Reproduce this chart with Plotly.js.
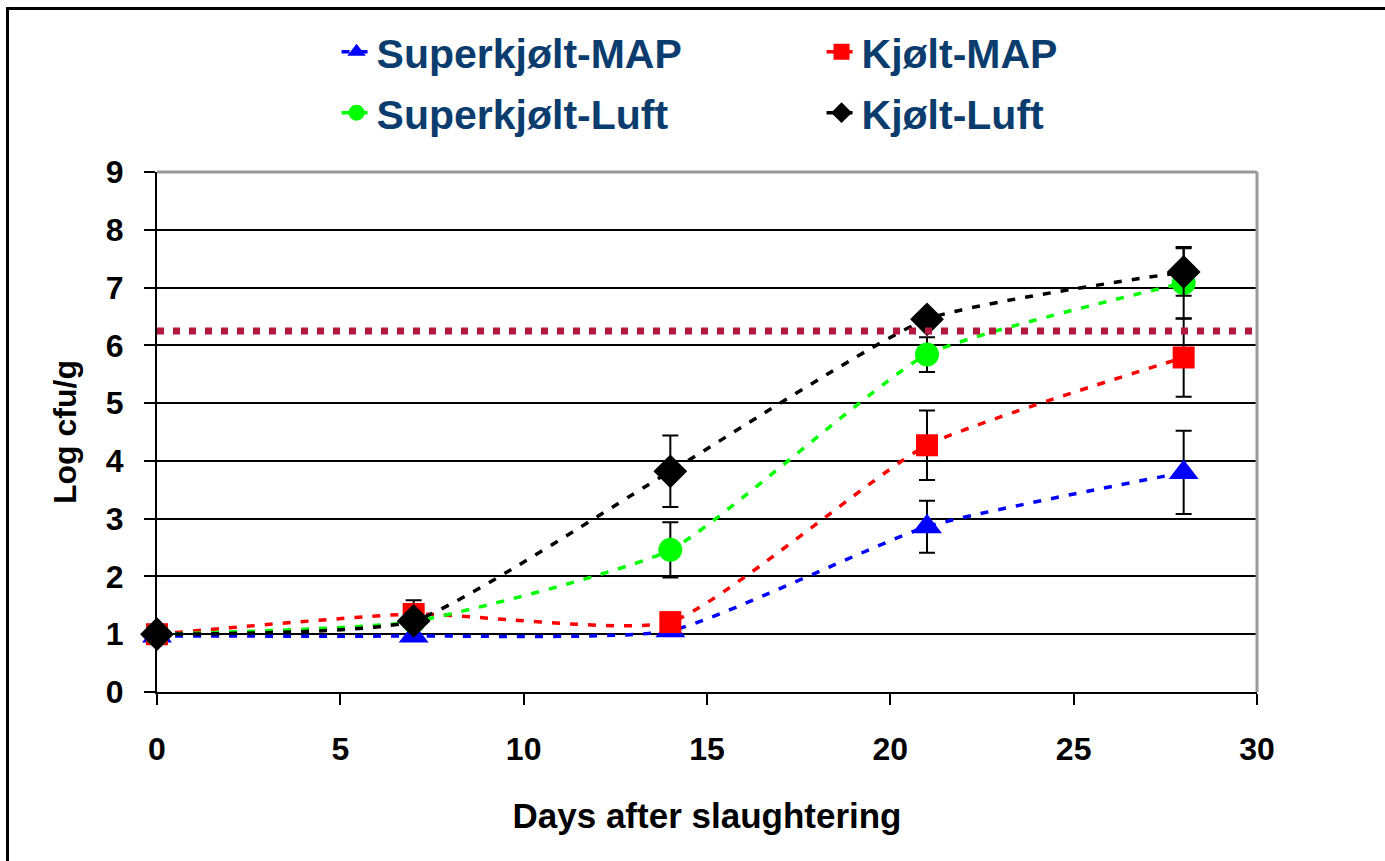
<!DOCTYPE html>
<html>
<head>
<meta charset="utf-8">
<script src="https://cdn.plot.ly/plotly-3.0.1.min.js"></script>
<style>
  html, body { margin: 0; padding: 0; background: #fff; }
  #wrap { position: relative; width: 1385px; height: 861px; overflow: hidden; }
  #chart { width: 1385px; height: 861px; }
  #frame { position: absolute; left: 6px; top: 7px; right: -10px; bottom: -10px;
           border-left: 3px solid #000; border-top: 3px solid #000; pointer-events: none; }
</style>
</head>
<body>
<div id="wrap"><div id="chart"></div><div id="frame"></div></div>
<script>
// ---- data ----
const days = [0, 7, 14, 21, 28];

const superMAP      = [0.97, 0.97, 1.06, 2.86, 3.80];
const superMAPErr   = [0.00, 0.00, 0.05, 0.45, 0.72];

const kjoltMAP      = [1.00, 1.35, 1.21, 4.27, 5.79];
const kjoltMAPErr   = [0.00, 0.24, 0.05, 0.60, 0.68];

const superLuft     = [1.00, 1.22, 2.46, 5.84, 7.08];
const superLuftErr  = [0.00, 0.05, 0.48, 0.30, 0.62];

const kjoltLuft     = [1.00, 1.23, 3.82, 6.45, 7.27];
const kjoltLuftErr  = [0.00, 0.05, 0.62, 0.10, 0.41];

const limitX = [0, 30];
const limitY = [6.25, 6.25];

const names = ['Superkjølt-MAP', 'Kjølt-MAP', 'Superkjølt-Luft', 'Kjølt-Luft'];
const xTicks = [0, 5, 10, 15, 20, 25, 30];
const yTicks = [0, 1, 2, 3, 4, 5, 6, 7, 8, 9];

function series(name, y, err, color, symbol, size, legend) {
  return {
    type: 'scatter', mode: 'lines+markers', name: name, x: days, y: y,
    legend: legend, cliponaxis: false,
    line: { color: color, width: 3.5, dash: '8px,10px', shape: 'spline', smoothing: 0.5 },
    marker: { color: color, symbol: symbol, size: size, line: { width: 0 } },
    error_y: { type: 'data', array: err, visible: true, color: '#000', thickness: 2, width: 8 }
  };
}

const traces = [
  series(names[0], superMAP,  superMAPErr,  '#0000ff', 'triangle-up', 26, 'legend'),
  series(names[1], kjoltMAP,  kjoltMAPErr,  '#ff0000', 'square',      22, 'legend'),
  series(names[2], superLuft, superLuftErr, '#00ff00', 'circle',      24, 'legend2'),
  series(names[3], kjoltLuft, kjoltLuftErr, '#000000', 'diamond',     26, 'legend2'),
  { type: 'scatter', mode: 'lines', x: limitX, y: limitY, showlegend: false, hoverinfo: 'skip',
    line: { color: '#b5173f', width: 7, dash: '7px,9px' } }
];

const fam = 'Liberation Sans, Arial, sans-serif';
const legFont = { family: fam, weight: 'bold', size: 41, color: '#0b3c6e' };

const layout = {
  width: 1385, height: 861,
  margin: { l: 157, r: 128, t: 172, b: 169, pad: 0 },
  paper_bgcolor: '#fff', plot_bgcolor: '#fff',
  font: { family: fam, weight: 'bold', color: '#000' },
  showlegend: true,
  legend: { orientation: 'h', xref: 'container', yref: 'container',
            x: 0.243, xanchor: 'left', y: 1 - 52 / 861, yanchor: 'middle',
            entrywidth: 440, font: legFont, bgcolor: 'rgba(0,0,0,0)', itemsizing: 'trace' },
  legend2: { orientation: 'h', xref: 'container', yref: 'container',
             x: 0.243, xanchor: 'left', y: 1 - 113 / 861, yanchor: 'middle',
             entrywidth: 440, font: legFont, bgcolor: 'rgba(0,0,0,0)', itemsizing: 'trace' },
  xaxis: {
    range: [0, 30], tickvals: xTicks, ticktext: xTicks.map(String),
    ticks: 'outside', ticklen: 11, tickwidth: 2, tickcolor: '#000', ticklabelstandoff: 17,
    showline: true, linecolor: '#000', linewidth: 2, showgrid: false, zeroline: false,
    tickfont: { family: fam, weight: 'bold', size: 32, color: '#000' },
    title: { text: 'Days after slaughtering', standoff: 37,
             font: { family: fam, weight: 'bold', size: 35, color: '#000' } }
  },
  yaxis: {
    range: [0, 9], tickvals: yTicks, ticktext: yTicks.map(String),
    ticks: 'outside', ticklen: 11, tickwidth: 2, tickcolor: '#000', ticklabelstandoff: 14,
    showline: true, linecolor: '#000', linewidth: 2,
    showgrid: true, gridcolor: '#000', gridwidth: 2, zeroline: false,
    tickfont: { family: fam, weight: 'bold', size: 32, color: '#000' },
    title: { text: 'Log cfu/g', standoff: 20,
             font: { family: fam, weight: 'bold', size: 32, color: '#000' } }
  },
  shapes: [
    { type: 'line', xref: 'paper', yref: 'paper', x0: 0, x1: 1, y0: 1, y1: 1,
      line: { color: '#999', width: 3 }, layer: 'above' },
    { type: 'line', xref: 'paper', yref: 'paper', x0: 1, x1: 1, y0: 0, y1: 1,
      line: { color: '#999', width: 3 }, layer: 'above' }
  ]
};

Plotly.newPlot('chart', traces, layout, { displayModeBar: false, responsive: false });
</script>
</body>
</html>
